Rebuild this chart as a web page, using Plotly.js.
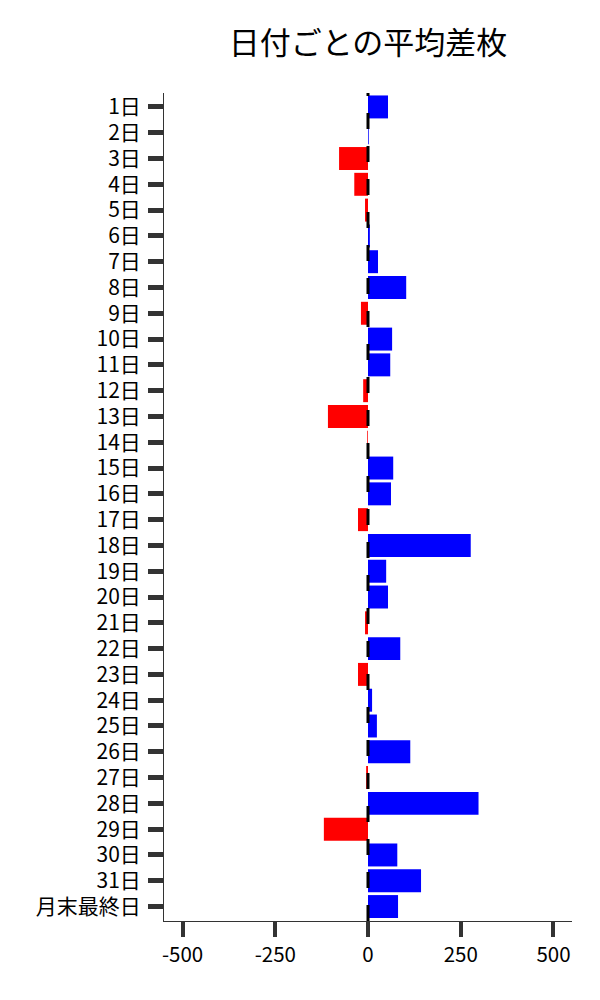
<!DOCTYPE html>
<html>
<head>
<meta charset="utf-8">
<script src="https://cdn.plot.ly/plotly-3.0.1.min.js"></script>
<style>html,body{margin:0;padding:0;background:#fff;}#chart{width:600px;height:1000px;}</style>
</head>
<body>
<div id="chart"></div>
<script>
var categories = ["1日","2日","3日","4日","5日","6日","7日","8日","9日","10日","11日","12日","13日","14日","15日","16日","17日","18日","19日","20日","21日","22日","23日","24日","25日","26日","27日","28日","29日","30日","31日","月末最終日"];
var values = [54, 2, -78, -37, -8, 5, 27, 103, -19, 65, 60, -13, -108, -2, 68, 62, -27, 277, 49, 54, -8, 87, -27, 11, 24, 114, -5, 298, -119, 79, 143, 81];
var xTickVals = [-500, -250, 0, 250, 500];
var xTickText = ["-500", "-250", "0", "250", "500"];

var colors = values.map(function (v) { return v >= 0 ? "#0000ff" : "#ff0000"; });
var FONT = "Noto Sans CJK JP, Noto Sans, sans-serif";

var trace = {
  type: "bar",
  orientation: "h",
  x: values,
  y: categories,
  marker: { color: colors, line: { width: 0 } },
  hoverinfo: "x+y"
};

var layout = {
  width: 600,
  height: 1000,
  margin: { l: 164, r: 28, t: 93, b: 79, pad: 0 },
  paper_bgcolor: "#ffffff",
  plot_bgcolor: "#ffffff",
  font: { family: FONT, size: 20, color: "#000000" },
  showlegend: false,
  bargap: 0.11,
  title: {
    text: "日付ごとの平均差枚",
    font: { family: FONT, size: 31, color: "#000000" },
    xref: "paper", x: 0.5, xanchor: "center",
    yref: "container", y: 0.957, yanchor: "middle"
  },
  xaxis: {
    range: [-550, 550],
    tickmode: "array",
    tickvals: xTickVals,
    ticktext: xTickText,
    ticks: "outside",
    ticklen: 15,
    tickwidth: 4,
    tickcolor: "#333333",
    showline: true,
    linecolor: "#333333",
    linewidth: 1,
    showgrid: false,
    zeroline: false,
    tickfont: { family: FONT, size: 20.5, color: "#000000" }
  },
  yaxis: {
    type: "category",
    range: [31.56, -0.54],
    ticks: "outside",
    ticklen: 15,
    tickwidth: 5,
    tickcolor: "#333333",
    showline: true,
    linecolor: "#333333",
    linewidth: 1,
    showgrid: false,
    zeroline: false,
    ticklabelstandoff: 3,
    tickfont: { family: FONT, size: 21, color: "#000000" }
  },
  shapes: [{
    type: "line",
    xref: "x", yref: "paper",
    x0: 0, x1: 0, y0: 0, y1: 1,
    line: { color: "#000000", width: 3, dash: "16px,17px" },
    layer: "above"
  }]
};

Plotly.newPlot("chart", [trace], layout, { displayModeBar: false, staticPlot: true });
</script>
</body>
</html>
